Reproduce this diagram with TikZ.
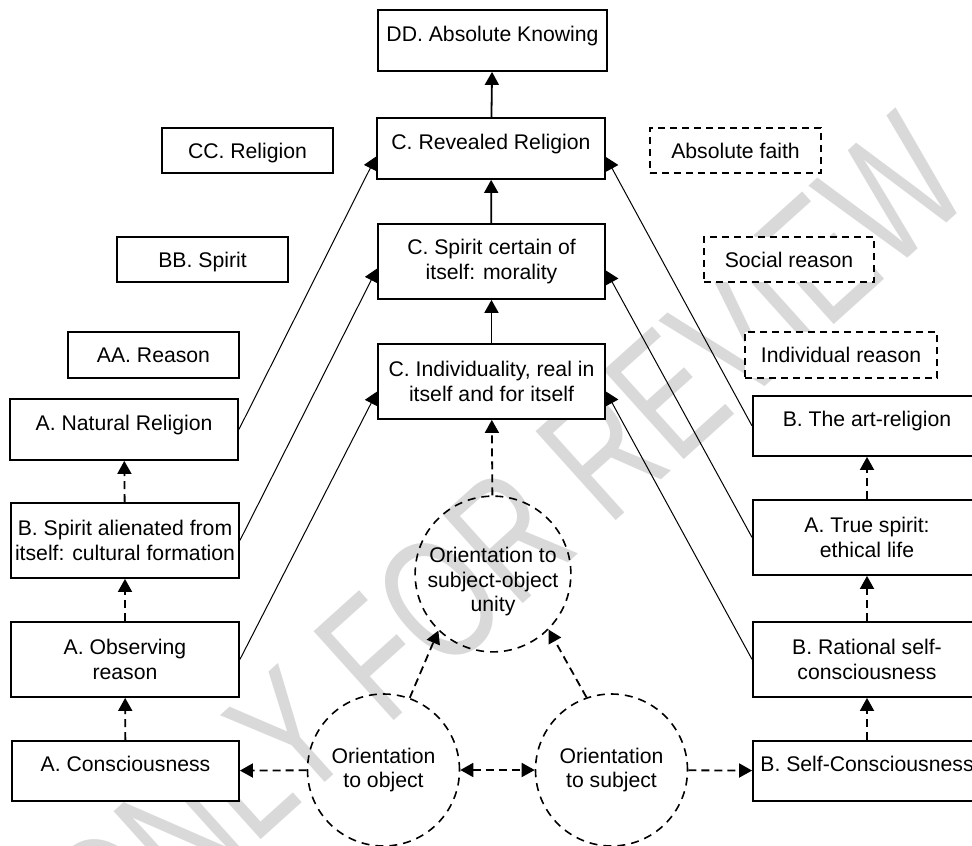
\documentclass[tikz,border=0pt]{standalone}
\usepackage{fontspec}
\setmainfont{Liberation Sans}
\usetikzlibrary{arrows.meta,calc}
\begin{document}
\begin{tikzpicture}[x=1pt,y=-1pt,
  every node/.style={font=\fontsize{21.2}{24.5}\selectfont, inner sep=0pt},
  box/.style={draw, line width=1.8pt, fill=white, align=center},
  topbox/.style={box, text height=15.2pt, text depth=14pt},
  onebox/.style={box, text height=15.2pt, text depth=0pt},
  dashbox/.style={onebox, dashed, dash pattern=on 7pt off 5pt},
  orient/.style={draw, circle, line width=1.6pt, dash pattern=on 8pt off 6pt,
    minimum size=152pt, align=center},
  tip/.style={-{Triangle[length=13pt,width=14pt]}},
  solidarrow/.style={tip, line width=1.8pt},
  dasharrow/.style={tip, line width=1.8pt, dash pattern=on 8pt off 5pt},
  diag/.style={tip, line width=1pt},
  watermark/.style={font=\fontsize{174}{174}\selectfont, text=black!15}
]
\useasboundingbox (0,0) rectangle (972,846);
\clip (0,0) rectangle (972,846);
\fill[white] (0,0) rectangle (972,846);

% faint stamp across the sheet
\node[watermark, rotate=42] (stamp) at (505,540) {\scalebox{0.72}[1]{ONLY FOR REVIEW}};

% central column
\node[topbox, minimum width=229pt, minimum height=61pt] (dd) at (492.5,40.5) {DD. Absolute Knowing};
\node[topbox, minimum width=228pt, minimum height=61pt] (rev) at (491,148.5) {C. Revealed Religion};
\node[box, minimum width=227pt, minimum height=75pt] (cert) at (491.5,261.5) {C. Spirit certain of\\itself: morality};
\node[box, minimum width=227pt, minimum height=75pt] (ind) at (491.5,381.5) {C. Individuality, real in\\itself and for itself};

% headings, left
\node[onebox, minimum width=171pt, minimum height=45pt] (cc) at (247.5,150.5) {CC. Religion};
\node[onebox, minimum width=171pt, minimum height=45pt] (bb) at (202.5,259.5) {BB. Spirit};
\node[onebox, minimum width=171pt, minimum height=46pt] (aa) at (153.5,355) {AA. Reason};

% headings, right
\node[dashbox, minimum width=171pt, minimum height=45pt] (faith) at (735.5,150.5) {Absolute faith};
\node[dashbox, minimum width=170pt, minimum height=45pt] (social) at (789,259.5) {Social reason};
\node[dashbox, minimum width=192pt, minimum height=46pt] (indr) at (841,355) {Individual reason};

% left column
\node[topbox, minimum width=228pt, minimum height=61pt] (nat) at (124,429.5) {A. Natural Religion};
\node[box, minimum width=228pt, minimum height=75pt] (alien) at (125,540.5) {B. Spirit alienated from\\itself: cultural formation};
\node[box, minimum width=228pt, minimum height=75pt] (obs) at (125,659.5) {A. Observing\\reason};
\node[topbox, minimum width=227pt, minimum height=60pt] (con) at (125.5,771) {A. Consciousness};

% right column
\node[topbox, minimum width=228pt, minimum height=60pt] (art) at (867,426) {B. The art-religion};
\node[box, minimum width=228pt, minimum height=75pt] (true) at (867,537.5) {A. True spirit:\\ethical life};
\node[box, minimum width=228pt, minimum height=75pt] (rat) at (867,659.5) {B. Rational self-\\consciousness};
\node[topbox, minimum width=228pt, minimum height=60pt] (self) at (867,771) {B. Self-Consciousness};

% orientations
\node[orient] (unity) at (493,574) {\rule{0pt}{31pt}Orientation to\\subject-object\\unity};
\node[orient] (obj) at (383.5,770) {Orientation\\to object};
\node[orient] (subj) at (611.5,770) {Orientation\\to subject};

% central ascent
\draw[solidarrow] (rev) -- (dd);
\draw[solidarrow] (cert) -- (rev);
\draw[solidarrow] (ind) -- (cert);
\draw[dasharrow] (unity) -- (ind);

% left ascent
\draw[dasharrow] (con) -- (obs);
\draw[dasharrow] (obs) -- (alien);
\draw[dasharrow] (alien) -- (nat);

% right ascent
\draw[dasharrow] (self) -- (rat);
\draw[dasharrow] (rat) -- (true);
\draw[dasharrow] (true) -- (art);

% orientations among themselves
\draw[dasharrow] (obj) -- (con);
\draw[dasharrow, {Triangle[length=13pt,width=14pt]}-{Triangle[length=13pt,width=14pt]}] (obj) -- (subj);
\draw[dasharrow] (subj) -- (self);
\draw[dasharrow] (obj.70) -- (unity.226);
\draw[dasharrow] (subj.109) -- (unity.315);

% cross links into the central column
\draw[diag] (nat.east) -- ($(rev.west)+(0,8)$);
\draw[diag] (alien.east) -- ($(cert.west)+(0,7)$);
\draw[diag] (obs.east) -- ($(ind.west)+(0,10)$);
\draw[diag] (art.west) -- ($(rev.east)+(0,8.5)$);
\draw[diag] (true.west) -- ($(cert.east)+(0,9)$);
\draw[diag] (rat.west) -- ($(ind.east)+(0,10)$);
\end{tikzpicture}
\end{document}
